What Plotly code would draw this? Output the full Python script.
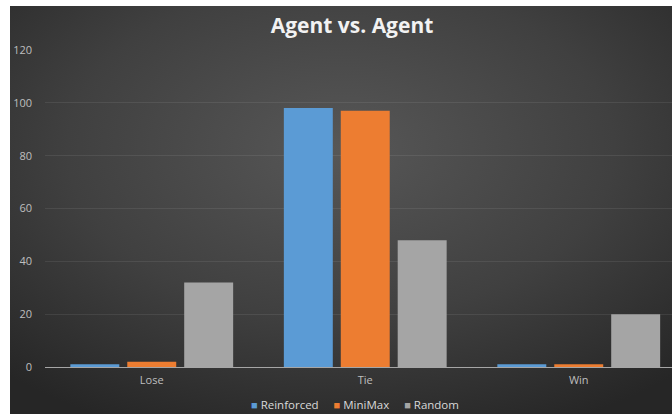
import plotly.graph_objects as go
import urllib.parse

categories = ["Lose", "Tie", "Win"]
series_names = ["Reinforced", "MiniMax", "Random"]
reinforced = [1, 98, 1]
minimax = [2, 97, 1]
random_vals = [32, 48, 20]
y_ticks = [0, 20, 40, 60, 80, 100, 120]

colors = ["#5B9BD5", "#ED7D31", "#A5A5A5"]

W, H = 672, 414
ML, MR, MT, MB = 45, 0, 50, 47
PW = W - ML - MR
PH = H - MT - MB
FONT = "Open Sans"

def px_to_paper_x(px):
    return (px - ML) / PW

def px_to_paper_y(py):
    return (H - MB - py) / PH

svg = (
    "<svg xmlns='http://www.w3.org/2000/svg' width='662' height='408' viewBox='0 0 662 408' preserveAspectRatio='none'>"
    "<defs><radialGradient id='g' cx='0.5' cy='0.35' r='0.75' gradientUnits='objectBoundingBox'>"
    "<stop offset='0' stop-color='#575757'/><stop offset='0.55' stop-color='#404040'/>"
    "<stop offset='1' stop-color='#262626'/></radialGradient></defs>"
    "<rect width='662' height='408' fill='url(#g)'/></svg>"
)
src = "data:image/svg+xml;charset=utf-8," + urllib.parse.quote(svg)

fig = go.Figure()
for name, vals, c in zip(series_names, [reinforced, minimax, random_vals], colors):
    fig.add_trace(go.Bar(x=categories, y=vals, name=name, showlegend=False,
                         marker=dict(color=c, line=dict(width=0))))

x0 = px_to_paper_x(10)
y_top = px_to_paper_y(6)
y_bot = px_to_paper_y(414)
fig.add_layout_image(dict(source=src, xref="paper", yref="paper", x=x0, y=y_top,
                          sizex=1 - x0, sizey=y_top - y_bot, sizing="stretch",
                          xanchor="left", yanchor="top", layer="below"))

legend_text = "&nbsp;&nbsp;&nbsp;&nbsp;&nbsp;".join(
    f"<span style='color:{c};font-size:11px'>■</span> {n}" for n, c in zip(series_names, colors)
)
fig.add_annotation(text=legend_text, xref="paper", yref="paper",
                   x=px_to_paper_x(355), y=px_to_paper_y(404), xanchor="center", yanchor="middle",
                   showarrow=False, font=dict(family=FONT, size=11.5, color="#d9d9d9"))

fig.update_layout(
    width=W, height=H,
    margin=dict(l=ML, r=MR, t=MT, b=MB),
    paper_bgcolor="white", plot_bgcolor="rgba(0,0,0,0)",
    font=dict(family=FONT, color="#bfbfbf", size=11),
    barmode="group", bargap=0.2, bargroupgap=0.14,
    showlegend=False,
    title=dict(text="<b>Agent vs. Agent</b>", x=352 / W, xanchor="center", y=1 - 26 / H, yanchor="middle",
               font=dict(family=FONT, size=21, color="#f2f2f2")),
    xaxis=dict(range=[-0.5, -0.5 + PW / 213.5], showgrid=False, zeroline=False,
               showline=False, ticks="", ticklabelstandoff=5, tickfont=dict(size=11, color="#bfbfbf")),
    yaxis=dict(range=[0, 120], tickvals=y_ticks, showgrid=True, gridcolor="rgba(255,255,255,0.08)",
               gridwidth=1, zeroline=True, zerolinecolor="#a6a6a6", zerolinewidth=1,
               showline=False, ticks="", ticklabelstandoff=12, tickfont=dict(size=11, color="#bfbfbf")),
)

fig.write_html("out.html", post_script="document.body.style.margin='0';",
               config={"displayModeBar": False})
